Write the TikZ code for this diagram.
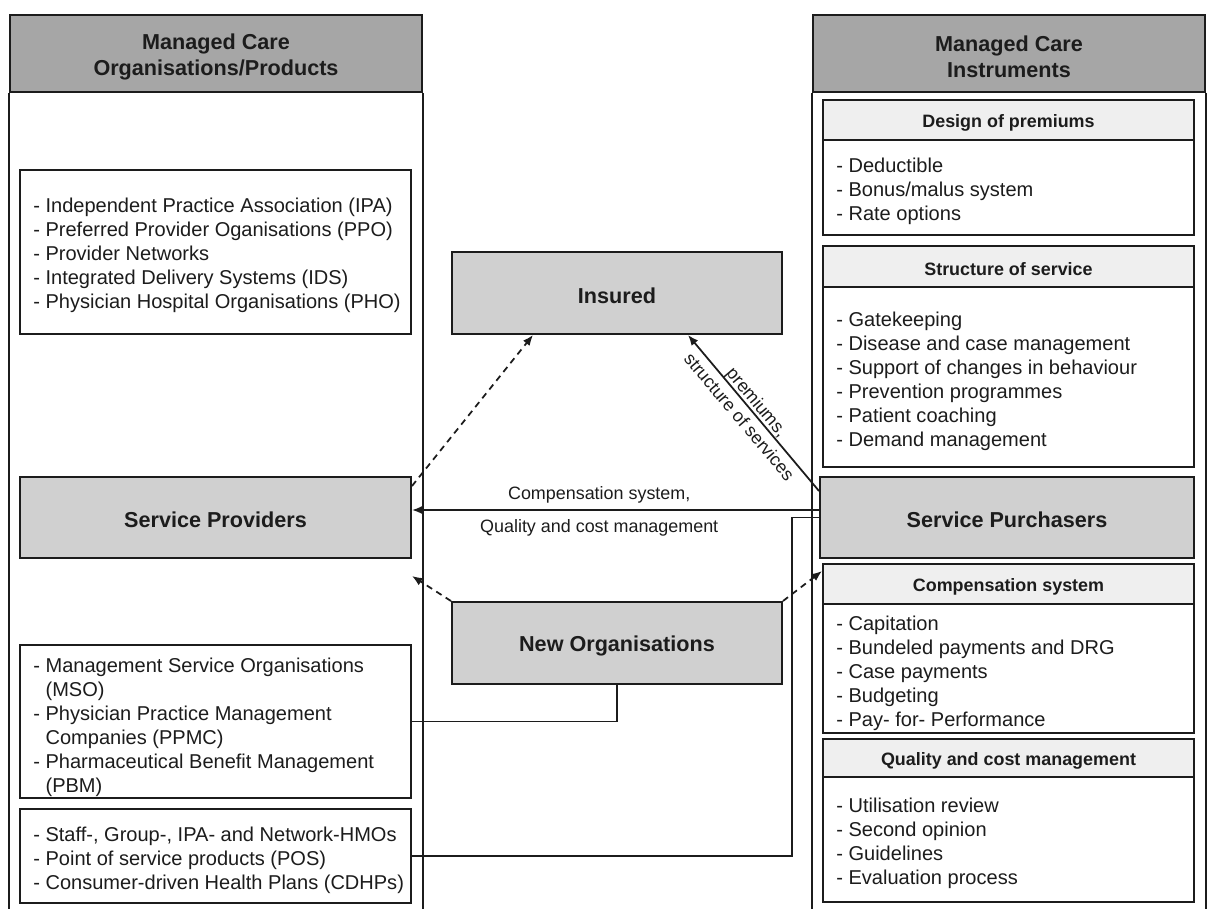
\documentclass[tikz,border=0pt]{standalone}
\usepackage{fontspec}
\setmainfont{Liberation Sans}
\usetikzlibrary{arrows.meta,fit,calc}
\definecolor{headgray}{HTML}{A6A6A6}
\definecolor{boxgray}{HTML}{D0D0D0}
\definecolor{subgray}{HTML}{EFEFEF}
\definecolor{ink}{HTML}{1C1C1C}
\begin{document}
\begin{tikzpicture}[x=0.02cm,y=-0.02cm,
  frame/.style={draw=ink,line width=1.1pt,inner sep=0pt},
  colhead/.style={frame,fill=headgray},
  mainbox/.style={frame,fill=boxgray},
  listbox/.style={frame,fill=white},
  subhead/.style={frame,fill=subgray},
  colline/.style={draw=ink,line width=1.1pt},
  headtext/.style={font=\bfseries\fontsize{12.3}{14.8}\selectfont,align=center,text=ink,inner sep=0pt,yshift=-0.06cm},
  boldlabel/.style={font=\bfseries\fontsize{12.3}{14.8}\selectfont,text=ink,inner sep=0pt,yshift=-0.05cm},
  subtext/.style={font=\bfseries\fontsize{10.2}{12.2}\selectfont,text=ink,inner sep=0pt,yshift=-0.05cm},
  listtext/.style={font=\fontsize{11.4}{13.66}\selectfont,align=left,anchor=west,text=ink,inner sep=0pt,yshift=-0.06cm},
  edgetext/.style={font=\fontsize{10.2}{12.2}\selectfont,text=ink},
  conn/.style={draw=ink,line width=1pt},
  arrowed/.style={-{Latex[length=6pt,width=4.8pt]}},
  dashconn/.style={conn,dash pattern=on 3.6pt off 2.8pt}
]
\useasboundingbox (0,0) rectangle (1210,909);

% ---- left column ----
\node[colhead,fit={(10,15)(422,92)}] (lh) {};
\node[headtext] (lht) at (lh.center) {Managed Care\\Organisations/Products};
\draw[colline] (lh.south west) -- (lh.south west |- 0,909);
\draw[colline] (lh.south east) -- (lh.south east |- 0,909);

% ---- right column ----
\node[colhead,fit={(813,15)(1205,92)}] (rh) {};
\node[headtext] (rht) at (rh.center) {Managed Care\\Instruments};
\draw[colline] (rh.south west) -- (rh.south west |- 0,909);
\draw[colline] (rh.south east) -- (rh.south east |- 0,909);

% ---- left list boxes ----
\node[listbox,fit={(20,170)(411,334)}] (b1) {};
\node[listtext] (b1t) at (33,252) {- Independent Practice Association (IPA)\\
- Preferred Provider Oganisations (PPO)\\
- Provider Networks\\
- Integrated Delivery Systems (IDS)\\
- Physician Hospital Organisations (PHO)};

\node[mainbox,fit={(20,477)(411,558)}] (sp) {};
\node[boldlabel] (spt) at (sp.center) {Service Providers};

\node[listbox,fit={(20,645)(411,798)}] (b2) {};
\node[listtext] (b2t) at (33,724) {- Management Service Organisations\\
\hphantom{-}\ (MSO)\\
- Physician Practice Management\\
\hphantom{-}\ Companies (PPMC)\\
- Pharmaceutical Benefit Management\\
\hphantom{-}\ (PBM)};

\node[listbox,fit={(20,809)(411,903)}] (b3) {};
\node[listtext] (b3t) at (33,857) {- Staff-, Group-, IPA- and Network-HMOs\\
- Point of service products (POS)\\
- Consumer-driven Health Plans (CDHPs)};

% ---- middle ----
\node[mainbox,fit={(452,252)(782,334)}] (ins) {};
\node[boldlabel] (inst) at (ins.center) {Insured};
\node[mainbox,fit={(452,602)(782,684)}] (new) {};
\node[boldlabel] (newt) at (new.center) {New Organisations};

% ---- right boxes ----
\node[subhead,fit={(823,100)(1194,140)}] (dph) {};
\node[subtext] (dpht) at (dph.center) {Design of premiums};
\node[listbox,fit={(823,140)(1194,235)}] (dpb) {};
\node[listtext] (dpbt) at (836,188) {- Deductible\\- Bonus/malus system\\- Rate options};

\node[subhead,fit={(823,246)(1194,287)}] (ssh) {};
\node[subtext] (ssht) at (ssh.center) {Structure of service};
\node[listbox,fit={(823,287)(1194,467)}] (ssb) {};
\node[listtext] (ssbt) at (836,378) {- Gatekeeping\\- Disease and case management\\- Support of changes in behaviour\\- Prevention programmes\\- Patient coaching\\- Demand management};

\node[mainbox,fit={(820,477)(1194,558)}] (pur) {};
\node[boldlabel] (purt) at (pur.center) {Service Purchasers};

\node[subhead,fit={(823,564)(1194,604)}] (csh) {};
\node[subtext] (csht) at (csh.center) {Compensation system};
\node[listbox,fit={(823,604)(1194,733)}] (csb) {};
\node[listtext] (csbt) at (836,670) {- Capitation\\- Bundeled payments and DRG\\- Case payments\\- Budgeting\\- Pay- for- Performance};

\node[subhead,fit={(823,739)(1194,777)}] (qch) {};
\node[subtext] (qcht) at (qch.center) {Quality and cost management};
\node[listbox,fit={(823,777)(1194,902)}] (qcb) {};
\node[listtext] (qcbt) at (836,840) {- Utilisation review\\- Second opinion\\- Guidelines\\- Evaluation process};

% ---- connectors ----
\draw[dashconn,arrowed] ([yshift=-0.2cm]sp.north east) -- ([xshift=-1.68cm]ins.south);
\draw[conn,{Latex[length=6pt,width=4.8pt]}-] ([xshift=1.42cm]ins.south) -- ([yshift=-0.3cm]pur.north west)
  node[edgetext,pos=0.47,sloped,align=center,inner sep=0pt,
       font=\fontsize{10.2}{13.2}\selectfont,yshift=-0.03cm] {premiums,\\structure of services};
\draw[conn,arrowed] ([yshift=0.15cm]pur.west) -- ([yshift=0.15cm]sp.east)
  node[edgetext,pos=0.54,yshift=0.30cm] {Compensation system,}
  node[edgetext,pos=0.54,yshift=-0.36cm] {Quality and cost management};
\draw[dashconn,arrowed] (new.north west) -- ([yshift=-0.34cm]sp.south east);
\draw[dashconn,arrowed] (new.north east) -- ([yshift=-0.16cm]csh.north west);
\draw[conn] (new.south) |- (b2.east);
\draw[conn] (b3.east) -| ($(pur.west)+(-27,0)$) -- (pur.west);
\end{tikzpicture}
\end{document}
